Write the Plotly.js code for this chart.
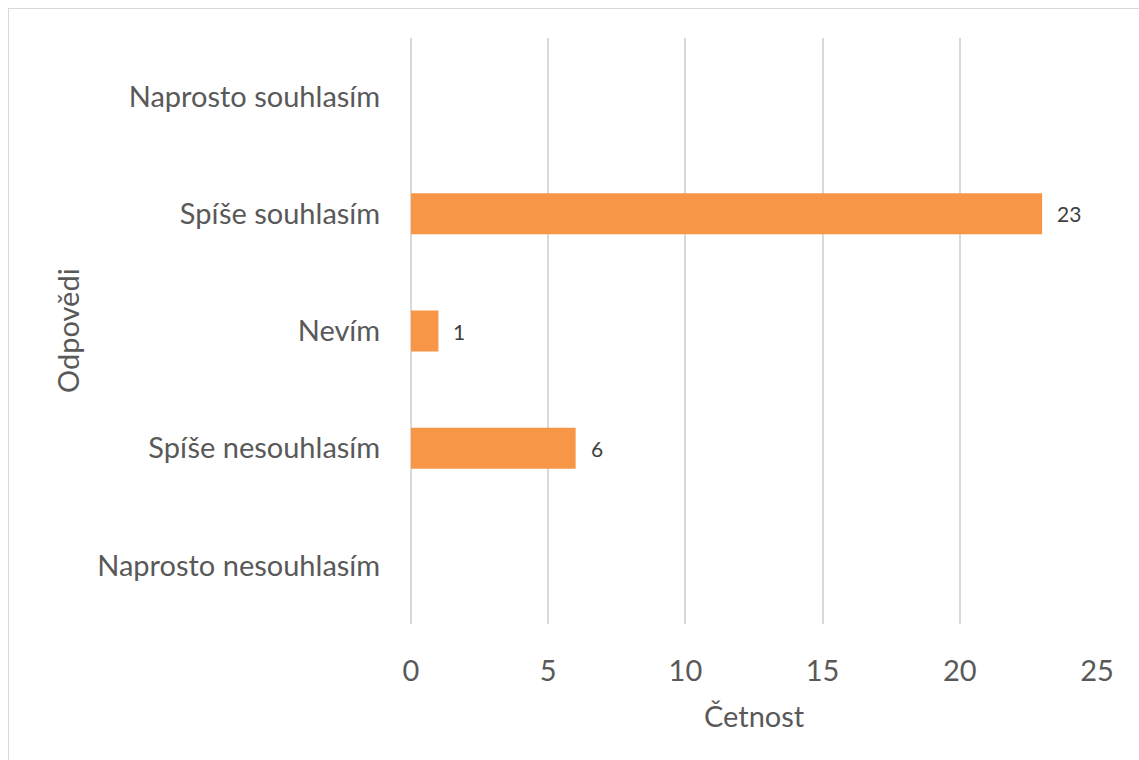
<!DOCTYPE html>
<html>
<head>
<meta charset="utf-8">
<script src="https://cdn.plot.ly/plotly-3.0.1.min.js"></script>
<style>
  html, body { margin: 0; padding: 0; background: #ffffff; overflow: hidden; }
  #wrap { position: relative; width: 1139px; height: 760px; }
  #frame { position: absolute; left: 8px; top: 8px; width: 1200px; height: 800px;
           border: 1px solid #d9d9d9; box-sizing: border-box; pointer-events: none; }
  #chart { position: absolute; left: 0; top: 0; width: 1139px; height: 760px; }
</style>
</head>
<body>
<div id="wrap">
  <div id="chart"></div>
  <div id="frame"></div>
</div>
<script>
// Response categories (bottom to top) and their counts
const categories = [
  "Naprosto nesouhlasím",
  "Spíše nesouhlasím",
  "Nevím",
  "Spíše souhlasím",
  "Naprosto souhlasím"
];
const counts = [null, 6, 1, 23, null];
const xTicks = [0, 5, 10, 15, 20, 25];

const FONT = "Lato, 'Open Sans', sans-serif";
const TEXT = "#595959";
const GRID = "#d9d9d9";

const bars = {
  type: "bar",
  orientation: "h",
  y: categories,
  x: counts,
  width: 0.35,
  marker: { color: "#F79646" },
  hoverinfo: "x+y"
};

// value labels placed just past the end of each bar
const labels = counts.map((v, i) => v === null ? null : ({
  x: v, y: categories[i], xref: "x", yref: "y",
  text: String(v), showarrow: false, xanchor: "left", xshift: 13,
  font: { family: FONT, size: 21, color: "#404040" }
})).filter(a => a);

const layout = {
  width: 1139,
  height: 760,
  margin: { l: 411, r: 42, t: 38, b: 136, pad: 0 },
  paper_bgcolor: "#ffffff",
  plot_bgcolor: "#ffffff",
  showlegend: false,
  font: { family: FONT, color: TEXT },
  xaxis: {
    range: [0, 25],
    tickvals: xTicks,
    ticktext: xTicks.map(String),
    showgrid: true,
    gridcolor: GRID,
    gridwidth: 2,
    zeroline: true,
    zerolinecolor: GRID,
    zerolinewidth: 2,
    showline: false,
    ticks: "outside",
    ticklen: 21,
    tickcolor: "rgba(0,0,0,0)",
    tickfont: { family: FONT, size: 29, color: TEXT },
    fixedrange: true
  },
  yaxis: {
    type: "category",
    categoryorder: "array",
    categoryarray: categories,
    range: [-0.5, 4.5],
    showgrid: false,
    zeroline: false,
    showline: false,
    ticks: "outside",
    ticklen: 24,
    tickcolor: "rgba(0,0,0,0)",
    tickfont: { family: FONT, size: 29, color: TEXT },
    fixedrange: true
  },
  annotations: labels.concat([
    {
      text: "Četnost", xref: "paper", yref: "paper", x: 0.5, y: 0,
      yshift: -91, showarrow: false, xanchor: "center", yanchor: "middle",
      font: { family: FONT, size: 29, color: TEXT }
    },
    {
      text: "Odpovědi", xref: "paper", yref: "paper", x: 0, y: 0.5,
      xshift: -344, showarrow: false, textangle: -90, xanchor: "center", yanchor: "middle",
      font: { family: FONT, size: 29, color: TEXT }
    }
  ])
};

Plotly.newPlot("chart", [bars], layout, { displayModeBar: false });
</script>
</body>
</html>
